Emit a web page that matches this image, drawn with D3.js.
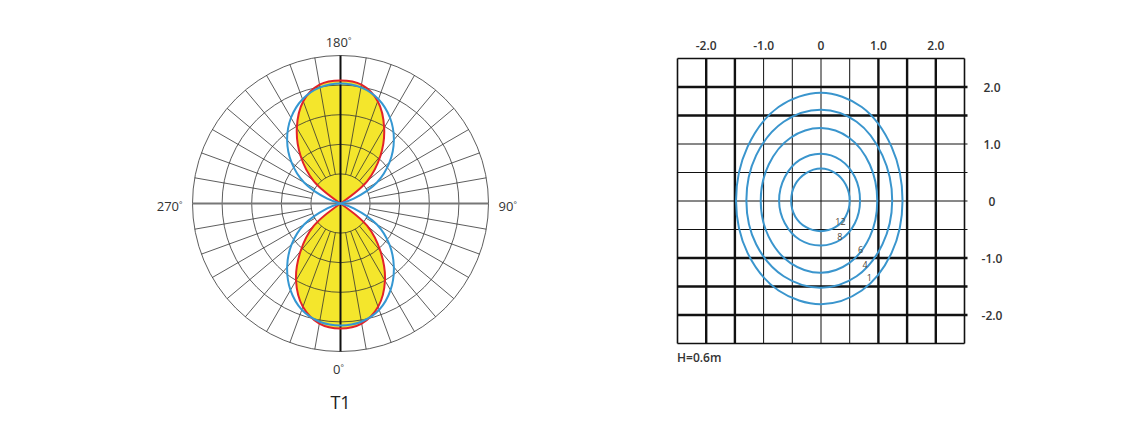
<!DOCTYPE html>
<html><head><meta charset="utf-8">
<script src="https://cdn.jsdelivr.net/npm/d3@7"></script>
<style>
html,body{margin:0;padding:0;background:#fff;}
svg{display:block;font-family:"Open Sans",sans-serif;}
</style></head>
<body>
<svg id="chart" width="1138" height="432"></svg>
<script>
// ---------- Polar (luminous intensity) data ----------
const polarAngles = d3.range(0, 360, 10); // degrees, 0 at bottom, 90 at right
const redValues = [84.5,82.4,74.3,60.1,41.9,23.6,0,0,0,0,0,0,0,23.6,41.9,59.0,73.5,81.5,
                   83.1,81.5,73.5,59.0,41.9,23.6,0,0,0,0,0,0,0,23.6,41.9,60.1,74.3,82.4];
const blueValues = [82.4,81.1,76.4,67.6,56.1,43.2,28.4,9.5,0,0,0,9.5,28.4,43.2,56.1,66.9,75.0,79.7,
                    81.1,79.7,75.0,66.9,56.1,43.2,28.4,9.5,0,0,0,9.5,28.4,43.2,56.1,67.6,76.4,81.1];
const ringValues = [20,40,60,80,100];
const spokeAngles = d3.range(0, 360, 10);
const polarLabels = [{a:180,t:"180"},{a:0,t:"0"},{a:270,t:"270"},{a:90,t:"90"}];
const polarTitle = "T1";

// ---------- Isolux data ----------
const gridTicks = [-2.5,-2.0,-1.5,-1.0,-0.5,0,0.5,1.0,1.5,2.0,2.5];
const xTickLabels = ["-2.0","-1.0","0","1.0","2.0"];
const xTickValues = [-2,-1,0,1,2];
const yTickLabels = ["2.0","1.0","0","-1.0","-2.0"];
const yTickValues = [2,1,0,-1,-2];
const thickX = [-2.0,-1.5,1.0,1.5,2.0];
const thickY = [2.0,1.5,-1.0,-1.5,-2.0];
const contourLevels = [12,8,6,4,1];
const contour12 = [[0.50,0],[0.43,0.29],[0.25,0.49],[0,0.57],[-0.26,0.49],[-0.45,0.29],[-0.52,0],[-0.45,-0.27],[-0.26,-0.46],[0,-0.53],[0.25,-0.46],[0.43,-0.27]];
const contour8  = [[0.68,0],[0.59,0.42],[0.34,0.72],[0,0.83],[-0.37,0.72],[-0.63,0.42],[-0.73,0],[-0.63,-0.39],[-0.37,-0.68],[0,-0.78],[0.34,-0.68],[0.59,-0.39]];
const contour6  = [[0.98,0],[0.85,0.64],[0.49,1.11],[0,1.28],[-0.53,1.11],[-0.91,0.64],[-1.05,0],[-0.91,-0.63],[-0.53,-1.09],[0,-1.26],[0.49,-1.09],[0.85,-0.63]];
const contour4  = [[1.24,0],[1.07,0.80],[0.62,1.39],[0,1.60],[-0.65,1.39],[-1.13,0.80],[-1.30,0],[-1.13,-0.76],[-0.65,-1.32],[0,-1.52],[0.62,-1.32],[1.07,-0.76]];
const contour1  = [[1.42,0],[1.23,0.95],[0.71,1.65],[0,1.90],[-0.74,1.65],[-1.28,0.95],[-1.48,0],[-1.28,-0.91],[-0.74,-1.57],[0,-1.81],[0.71,-1.57],[1.23,-0.91]];
const contourLabelAt = [[0.34,-0.37],[0.33,-0.64],[0.69,-0.86],[0.77,-1.13],[0.84,-1.35]];
const heightNote = "H=0.6m";

const svg = d3.select("#chart");

// ===== Polar chart =====
const cx = 340.5, cy = 203.5, R = 148;
const rScale = d3.scaleLinear().domain([0,100]).range([0,R]);
const toRad = d => (180 - d) * Math.PI / 180; // lineRadial angle
const pg = svg.append("g").attr("transform",`translate(${cx},${cy})`);

const redPts = polarAngles.map((a,i)=>[a,redValues[i]]);
const bluePts = polarAngles.map((a,i)=>[a,blueValues[i]]);
const radial = d3.lineRadial().angle(d=>toRad(d[0])).radius(d=>rScale(d[1])).curve(d3.curveCatmullRomClosed.alpha(0.5));

pg.append("path").attr("d", radial(redPts)).attr("fill","#f4e62c").attr("stroke","none");

pg.selectAll("circle.ring").data(ringValues).join("circle")
  .attr("r", d=>rScale(d)).attr("fill","none").attr("stroke","#333").attr("stroke-width",0.8);
pg.selectAll("line.spoke").data(spokeAngles.filter(a=>a%90!==0)).join("line")
  .attr("x1", a=>rScale(ringValues[0])*Math.sin(a*Math.PI/180))
  .attr("y1", a=>rScale(ringValues[0])*Math.cos(a*Math.PI/180))
  .attr("x2", a=>R*Math.sin(a*Math.PI/180))
  .attr("y2", a=>R*Math.cos(a*Math.PI/180))
  .attr("stroke","#333").attr("stroke-width",0.8);
pg.append("line").attr("x1",-R).attr("x2",R).attr("y1",0).attr("y2",0).attr("stroke","#777").attr("stroke-width",2);
pg.append("line").attr("x1",0).attr("x2",0).attr("y1",-R).attr("y2",R).attr("stroke","#111").attr("stroke-width",2);

pg.append("path").attr("d", radial(redPts)).attr("fill","none").attr("stroke","#e2232a").attr("stroke-width",2);
pg.append("path").attr("d", radial(bluePts)).attr("fill","none").attr("stroke","#3597d2").attr("stroke-width",2);

const lblPos = {180:[0,-R-9,"middle"],0:[0,R+22,"middle"],270:[-R-10,7,"end"],90:[R+10,7,"start"]};
polarLabels.forEach(l=>{
  const p = lblPos[l.a];
  const t = pg.append("text").attr("x",p[0]+(p[2]==="middle"?-2:0)).attr("y",p[1]).attr("text-anchor",p[2])
    .attr("font-size",13).attr("fill","#333");
  t.append("tspan").text(l.t);
  t.append("tspan").attr("font-size",8).attr("dy",-4).text("°");
});
pg.append("text").attr("x",0).attr("y",R+57).attr("text-anchor","middle").attr("font-size",18).attr("fill","#222").text(polarTitle);

// ===== Isolux chart =====
const x = d3.scaleLinear().domain([-2.5,2.5]).range([677.5,964.5]);
const y = d3.scaleLinear().domain([-2.5,2.5]).range([343.5,58.5]);
const ig = svg.append("g");

gridTicks.forEach(v=>{
  const thick = thickX.includes(v), outer = Math.abs(v)===2.5;
  ig.append("line").attr("x1",x(v)).attr("x2",x(v)).attr("y1",y(2.5)).attr("y2",y(-2.5))
    .attr("stroke","#111").attr("stroke-width", outer?1.6:(thick?2.4:1));
});
gridTicks.forEach(v=>{
  const thick = thickY.includes(v), outer = Math.abs(v)===2.5;
  ig.append("line").attr("x1",x(-2.5)).attr("x2",x(2.5)+(outer?0:3)).attr("y1",y(v)).attr("y2",y(v))
    .attr("stroke","#111").attr("stroke-width", outer?1.6:(thick?2.4:1));
});

const contours = [contour12,contour8,contour6,contour4,contour1];
const cline = d3.line().x(d=>x(d[0])).y(d=>y(d[1])).curve(d3.curveCatmullRomClosed.alpha(0.5));
ig.selectAll("path.contour").data(contours).join("path")
  .attr("d", d=>cline(d)).attr("fill","none").attr("stroke","#3a95cd").attr("stroke-width",2);

ig.selectAll("text.clabel").data(contourLevels).join("text")
  .attr("x",(d,i)=>x(contourLabelAt[i][0])).attr("y",(d,i)=>y(contourLabelAt[i][1])+3)
  .attr("text-anchor","middle").attr("font-size",9).attr("fill","#4d4436").text(d=>d);

ig.selectAll("text.xt").data(xTickValues).join("text")
  .attr("x",d=>x(d)).attr("y",50).attr("text-anchor","middle")
  .attr("font-size",12).attr("font-weight",600).attr("fill","#333")
  .text((d,i)=>xTickLabels[i]);
ig.selectAll("text.yt").data(yTickValues).join("text")
  .attr("x",992).attr("y",d=>y(d)+4.5).attr("text-anchor","middle")
  .attr("font-size",12).attr("font-weight",600).attr("fill","#333")
  .text((d,i)=>yTickLabels[i]);

ig.append("text").attr("x",677).attr("y",362).attr("font-size",12).attr("font-weight",600).attr("fill","#333").text(heightNote);
</script>
</body></html>
